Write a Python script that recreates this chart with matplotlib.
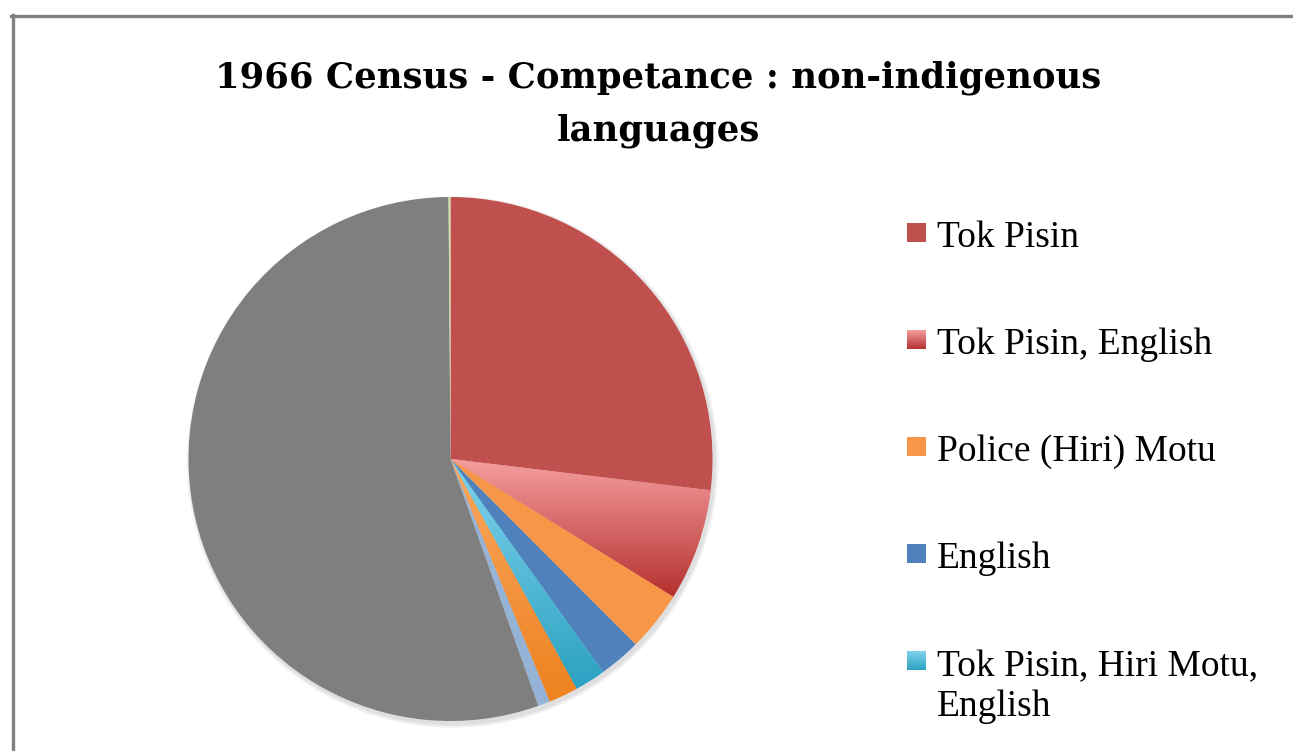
import matplotlib
matplotlib.use('Agg')
import matplotlib.pyplot as plt
import numpy as np
from matplotlib.colors import LinearSegmentedColormap
from matplotlib.patches import Rectangle, Circle
from matplotlib.lines import Line2D

W, H = 1293, 751

# data (share of population, %)
labels = ['Tok Pisin', 'Tok Pisin, English', 'Police (Hiri) Motu', 'English',
          'Tok Pisin, Hiri Motu,\nEnglish', 'Hiri Motu, English', 'Tok Pisin, Hiri Motu',
          'None', 'Other']
values = [26.9, 6.9, 3.7, 2.6, 1.9, 1.8, 0.75, 55.3, 0.12]
colors = ['#C0504D', '#D96B6B', '#F79646', '#4F81BD', '#4BB8D6', '#F5923C', '#95B3D7',
          '#7F7F7F', '#D4DFA6']
# vertical gradients (top colour, bottom colour) for some slices
gradients = {1: ('#F59E9E', '#B5302F'), 4: ('#80D4EC', '#2BA1C1'), 5: ('#FAA862', '#EE821F')}

title = '1966 Census - Competance : non-indigenous\nlanguages'

fig = plt.figure(figsize=(W / 100, H / 100), dpi=100)
ax = fig.add_axes([0, 0, 1, 1])

cx, cy, r = 450.5, H - 459, 262

# soft shadow
for k in range(4):
    ax.add_patch(Circle((cx + 2, cy - 3), r + 1 + k, color='k', alpha=0.03, lw=0, zorder=0))

wedges, _ = ax.pie(values, colors=colors, startangle=90, counterclock=False,
                   center=(cx, cy), radius=r, wedgeprops=dict(linewidth=0))


def gradient_fill(patch, top, bottom, zorder):
    ext = patch.get_path().transformed(patch.get_patch_transform()).get_extents()
    cmap = LinearSegmentedColormap.from_list('g', [top, bottom])
    grad = np.linspace(0, 1, 256)[:, None]
    im = ax.imshow(grad, extent=(ext.x0, ext.x1, ext.y0, ext.y1), origin='upper',
                   cmap=cmap, aspect='auto', zorder=zorder, interpolation='bilinear')
    im.set_clip_path(patch)


for i, (top, bottom) in gradients.items():
    gradient_fill(wedges[i], top, bottom, wedges[i].get_zorder() + 0.1)

# legend drawn by hand, one row per slice (the reference is cropped below row 5)
lx, sq = 907, 19
base0, step, line_h = 247, 107, 41
y = base0
for i, lab in enumerate(labels):
    if y > H:
        break
    n_extra = lab.count('\n')
    patch = Rectangle((lx, H - y + 5), sq, sq, facecolor=colors[i], lw=0, zorder=3)
    ax.add_patch(patch)
    if i in gradients:
        patch.set_facecolor('none')
        gradient_fill(patch, gradients[i][0], gradients[i][1], 3.1)
    ax.text(lx + 30, H - y - line_h * n_extra, lab, fontsize=27, family='Liberation Serif',
            color='#000000', va='baseline', ha='left', linespacing=1.2, zorder=4)
    y += step + line_h * n_extra

ax.text(658, H - 140, title, fontsize=25.5, fontweight='bold', family='DejaVu Serif',
        ha='center', va='baseline', linespacing=1.68, multialignment='center')

ax.set_xlim(0, W)
ax.set_ylim(0, H)
ax.set_aspect('equal')
ax.axis('off')

# chart frame (cut off at right and bottom)
fig.add_artist(Line2D([12.5 / W, 12.5 / W], [0, 1 - 15 / H], color='#808080', lw=2.4))
fig.add_artist(Line2D([11 / W, 1], [1 - 15.5 / H, 1 - 15.5 / H], color='#808080', lw=2.4))

fig.savefig('out.png', dpi=100)
